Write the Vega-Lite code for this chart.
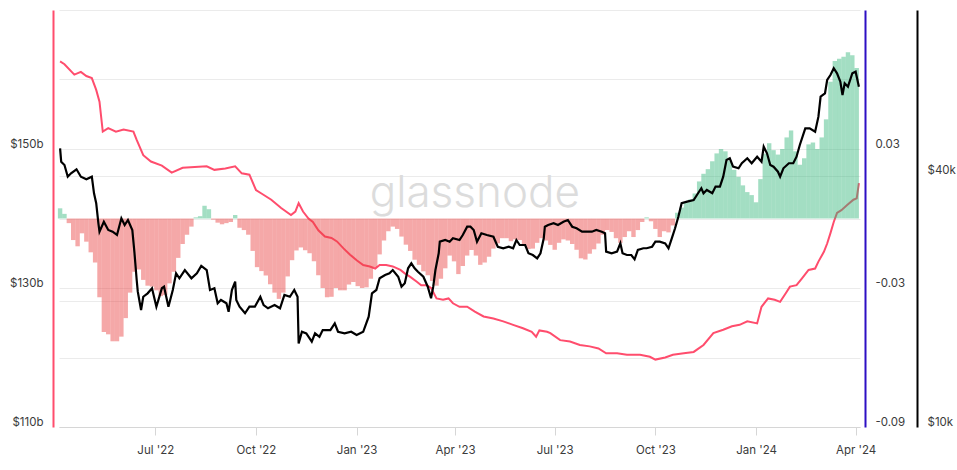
{
  "$schema": "https://vega.github.io/schema/vega-lite/v6.json",
  "width": 801,
  "height": 417,
  "padding": {"left": 9, "top": 10, "right": 0, "bottom": 0},
  "background": "white",
  "config": {
    "view": {"stroke": null},
    "font": "Inter",
    "axis": {
      "labelFont": "Inter",
      "labelFontSize": 11.5,
      "labelColor": "#3b3b3b",
      "title": null,
      "gridColor": "#ebebeb",
      "gridWidth": 1
    }
  },
  "datasets": {
    "watermark": [{"date": "2023-04-19", "value": 0.005}],
    "supply": [
      {"date": "2022-04-05", "value": 162.6}, {"date": "2022-04-09", "value": 162.2}, {"date": "2022-04-18", "value": 160.7},
      {"date": "2022-04-24", "value": 161.1}, {"date": "2022-04-29", "value": 160.5}, {"date": "2022-05-04", "value": 160.2},
      {"date": "2022-05-08", "value": 158.5}, {"date": "2022-05-11", "value": 156.8}, {"date": "2022-05-14", "value": 152.5},
      {"date": "2022-05-19", "value": 153.0}, {"date": "2022-05-26", "value": 152.5}, {"date": "2022-06-02", "value": 152.8},
      {"date": "2022-06-11", "value": 152.5}, {"date": "2022-06-14", "value": 151.3}, {"date": "2022-06-20", "value": 149.1},
      {"date": "2022-06-27", "value": 148.2}, {"date": "2022-07-07", "value": 147.6}, {"date": "2022-07-16", "value": 146.6},
      {"date": "2022-07-26", "value": 147.3}, {"date": "2022-08-06", "value": 147.4}, {"date": "2022-08-17", "value": 147.5},
      {"date": "2022-08-24", "value": 147.0}, {"date": "2022-09-03", "value": 147.2}, {"date": "2022-09-12", "value": 147.5},
      {"date": "2022-09-18", "value": 146.5}, {"date": "2022-09-25", "value": 146.3}, {"date": "2022-10-01", "value": 144.1},
      {"date": "2022-10-06", "value": 143.6}, {"date": "2022-10-15", "value": 142.7}, {"date": "2022-10-24", "value": 141.5},
      {"date": "2022-11-02", "value": 140.5}, {"date": "2022-11-06", "value": 141.0}, {"date": "2022-11-09", "value": 142.2},
      {"date": "2022-11-13", "value": 141.0}, {"date": "2022-11-18", "value": 140.0}, {"date": "2022-11-22", "value": 139.5},
      {"date": "2022-11-27", "value": 138.3}, {"date": "2022-12-03", "value": 137.4}, {"date": "2022-12-09", "value": 137.2},
      {"date": "2022-12-14", "value": 136.7}, {"date": "2022-12-20", "value": 135.7}, {"date": "2022-12-26", "value": 134.8},
      {"date": "2023-01-01", "value": 134.0}, {"date": "2023-01-07", "value": 133.3}, {"date": "2023-01-13", "value": 133.1},
      {"date": "2023-01-18", "value": 132.8}, {"date": "2023-01-22", "value": 133.3}, {"date": "2023-01-28", "value": 133.3},
      {"date": "2023-02-03", "value": 133.1}, {"date": "2023-02-10", "value": 132.6}, {"date": "2023-02-14", "value": 132.1},
      {"date": "2023-02-19", "value": 131.6}, {"date": "2023-02-25", "value": 130.9}, {"date": "2023-03-01", "value": 130.4},
      {"date": "2023-03-06", "value": 130.4}, {"date": "2023-03-10", "value": 130.0}, {"date": "2023-03-15", "value": 128.5},
      {"date": "2023-03-21", "value": 128.3}, {"date": "2023-03-26", "value": 128.5}, {"date": "2023-03-30", "value": 127.8},
      {"date": "2023-04-05", "value": 127.3}, {"date": "2023-04-12", "value": 127.3}, {"date": "2023-04-19", "value": 126.6},
      {"date": "2023-04-27", "value": 125.9}, {"date": "2023-05-06", "value": 125.6}, {"date": "2023-05-15", "value": 125.2},
      {"date": "2023-05-24", "value": 124.7}, {"date": "2023-06-02", "value": 124.2}, {"date": "2023-06-10", "value": 123.7},
      {"date": "2023-06-14", "value": 123.0}, {"date": "2023-06-17", "value": 123.9}, {"date": "2023-06-24", "value": 123.7},
      {"date": "2023-06-27", "value": 123.5}, {"date": "2023-07-06", "value": 122.5}, {"date": "2023-07-15", "value": 122.3},
      {"date": "2023-07-24", "value": 121.8}, {"date": "2023-08-02", "value": 121.6}, {"date": "2023-08-10", "value": 121.3},
      {"date": "2023-08-17", "value": 120.6}, {"date": "2023-08-27", "value": 120.6}, {"date": "2023-09-05", "value": 120.4},
      {"date": "2023-09-17", "value": 120.4}, {"date": "2023-09-26", "value": 120.1}, {"date": "2023-10-01", "value": 119.7},
      {"date": "2023-10-10", "value": 120.0}, {"date": "2023-10-17", "value": 120.4}, {"date": "2023-10-27", "value": 120.6},
      {"date": "2023-11-05", "value": 120.8}, {"date": "2023-11-14", "value": 121.8}, {"date": "2023-11-23", "value": 123.5},
      {"date": "2023-12-02", "value": 124.0}, {"date": "2023-12-10", "value": 124.5}, {"date": "2023-12-17", "value": 124.7},
      {"date": "2023-12-24", "value": 125.2}, {"date": "2024-01-02", "value": 124.9}, {"date": "2024-01-06", "value": 127.3},
      {"date": "2024-01-12", "value": 128.5}, {"date": "2024-01-18", "value": 128.3}, {"date": "2024-01-23", "value": 128.0},
      {"date": "2024-01-28", "value": 129.2}, {"date": "2024-02-01", "value": 130.2}, {"date": "2024-02-07", "value": 130.4},
      {"date": "2024-02-12", "value": 131.4}, {"date": "2024-02-18", "value": 132.6}, {"date": "2024-02-24", "value": 132.8},
      {"date": "2024-02-27", "value": 133.8}, {"date": "2024-03-03", "value": 135.2}, {"date": "2024-03-06", "value": 136.4},
      {"date": "2024-03-09", "value": 137.9}, {"date": "2024-03-12", "value": 139.5}, {"date": "2024-03-15", "value": 140.8},
      {"date": "2024-03-19", "value": 141.2}, {"date": "2024-03-24", "value": 141.9}, {"date": "2024-03-30", "value": 142.7},
      {"date": "2024-04-02", "value": 142.9}, {"date": "2024-04-04", "value": 145.1}
    ],
    "oscillator": [
      {"date": "2022-04-05", "value": 0.0044}, {"date": "2022-04-09", "value": 0.002}, {"date": "2022-04-13", "value": -0.002},
      {"date": "2022-04-17", "value": -0.0093}, {"date": "2022-04-21", "value": -0.012}, {"date": "2022-04-25", "value": -0.0064},
      {"date": "2022-04-29", "value": -0.01}, {"date": "2022-05-03", "value": -0.0146}, {"date": "2022-05-07", "value": -0.019},
      {"date": "2022-05-11", "value": -0.034}, {"date": "2022-05-15", "value": -0.049}, {"date": "2022-05-19", "value": -0.05},
      {"date": "2022-05-23", "value": -0.053}, {"date": "2022-05-27", "value": -0.053}, {"date": "2022-05-31", "value": -0.051},
      {"date": "2022-06-04", "value": -0.043}, {"date": "2022-06-08", "value": -0.032}, {"date": "2022-06-12", "value": -0.023},
      {"date": "2022-06-16", "value": -0.022}, {"date": "2022-06-20", "value": -0.0265}, {"date": "2022-06-24", "value": -0.029},
      {"date": "2022-06-28", "value": -0.0294}, {"date": "2022-07-02", "value": -0.031}, {"date": "2022-07-06", "value": -0.0335},
      {"date": "2022-07-10", "value": -0.033}, {"date": "2022-07-14", "value": -0.028}, {"date": "2022-07-18", "value": -0.023},
      {"date": "2022-07-22", "value": -0.017}, {"date": "2022-07-26", "value": -0.011}, {"date": "2022-07-30", "value": -0.007},
      {"date": "2022-08-03", "value": -0.0035}, {"date": "2022-08-07", "value": 0.0005}, {"date": "2022-08-11", "value": 0.001},
      {"date": "2022-08-15", "value": 0.0055}, {"date": "2022-08-19", "value": 0.004}, {"date": "2022-08-23", "value": -0.0005},
      {"date": "2022-08-27", "value": -0.0018}, {"date": "2022-08-31", "value": -0.0025}, {"date": "2022-09-04", "value": -0.002},
      {"date": "2022-09-08", "value": -0.0015}, {"date": "2022-09-12", "value": 0.0015}, {"date": "2022-09-16", "value": -0.004},
      {"date": "2022-09-20", "value": -0.005}, {"date": "2022-09-24", "value": -0.007}, {"date": "2022-09-28", "value": -0.014},
      {"date": "2022-10-02", "value": -0.021}, {"date": "2022-10-06", "value": -0.0227}, {"date": "2022-10-10", "value": -0.0246},
      {"date": "2022-10-14", "value": -0.0284}, {"date": "2022-10-18", "value": -0.032}, {"date": "2022-10-22", "value": -0.0347},
      {"date": "2022-10-26", "value": -0.032}, {"date": "2022-10-30", "value": -0.025}, {"date": "2022-11-03", "value": -0.018},
      {"date": "2022-11-07", "value": -0.0138}, {"date": "2022-11-11", "value": -0.0125}, {"date": "2022-11-15", "value": -0.0137},
      {"date": "2022-11-19", "value": -0.015}, {"date": "2022-11-23", "value": -0.0185}, {"date": "2022-11-27", "value": -0.0245},
      {"date": "2022-12-01", "value": -0.03}, {"date": "2022-12-05", "value": -0.034}, {"date": "2022-12-09", "value": -0.0338},
      {"date": "2022-12-13", "value": -0.03}, {"date": "2022-12-17", "value": -0.031}, {"date": "2022-12-21", "value": -0.031},
      {"date": "2022-12-25", "value": -0.0285}, {"date": "2022-12-29", "value": -0.0274}, {"date": "2023-01-02", "value": -0.0292},
      {"date": "2023-01-06", "value": -0.03}, {"date": "2023-01-10", "value": -0.0297}, {"date": "2023-01-14", "value": -0.026},
      {"date": "2023-01-18", "value": -0.021}, {"date": "2023-01-22", "value": -0.0155}, {"date": "2023-01-26", "value": -0.0095},
      {"date": "2023-01-30", "value": -0.0055}, {"date": "2023-02-03", "value": -0.0035}, {"date": "2023-02-07", "value": -0.0045},
      {"date": "2023-02-11", "value": -0.0078}, {"date": "2023-02-15", "value": -0.0113}, {"date": "2023-02-19", "value": -0.014},
      {"date": "2023-02-23", "value": -0.0178}, {"date": "2023-02-27", "value": -0.02}, {"date": "2023-03-03", "value": -0.0228},
      {"date": "2023-03-07", "value": -0.0245}, {"date": "2023-03-11", "value": -0.027}, {"date": "2023-03-15", "value": -0.029},
      {"date": "2023-03-19", "value": -0.026}, {"date": "2023-03-23", "value": -0.0215}, {"date": "2023-03-27", "value": -0.016},
      {"date": "2023-03-31", "value": -0.0185}, {"date": "2023-04-04", "value": -0.024}, {"date": "2023-04-08", "value": -0.0205},
      {"date": "2023-04-12", "value": -0.016}, {"date": "2023-04-16", "value": -0.0136}, {"date": "2023-04-20", "value": -0.016},
      {"date": "2023-04-24", "value": -0.02}, {"date": "2023-04-28", "value": -0.019}, {"date": "2023-05-02", "value": -0.0165},
      {"date": "2023-05-06", "value": -0.013}, {"date": "2023-05-10", "value": -0.0107}, {"date": "2023-05-14", "value": -0.0085},
      {"date": "2023-05-18", "value": -0.0085}, {"date": "2023-05-22", "value": -0.0098}, {"date": "2023-05-26", "value": -0.009},
      {"date": "2023-05-30", "value": -0.0093}, {"date": "2023-06-03", "value": -0.0115}, {"date": "2023-06-07", "value": -0.0132},
      {"date": "2023-06-11", "value": -0.013}, {"date": "2023-06-15", "value": -0.0105}, {"date": "2023-06-19", "value": -0.0085},
      {"date": "2023-06-23", "value": -0.0095}, {"date": "2023-06-27", "value": -0.0114}, {"date": "2023-07-01", "value": -0.0135},
      {"date": "2023-07-05", "value": -0.0105}, {"date": "2023-07-09", "value": -0.009}, {"date": "2023-07-13", "value": -0.0095},
      {"date": "2023-07-17", "value": -0.011}, {"date": "2023-07-21", "value": -0.0135}, {"date": "2023-07-25", "value": -0.0172},
      {"date": "2023-07-29", "value": -0.0177}, {"date": "2023-08-02", "value": -0.0152}, {"date": "2023-08-06", "value": -0.0133},
      {"date": "2023-08-10", "value": -0.0108}, {"date": "2023-08-14", "value": -0.007}, {"date": "2023-08-18", "value": -0.005},
      {"date": "2023-08-22", "value": -0.0058}, {"date": "2023-08-26", "value": -0.0085}, {"date": "2023-08-30", "value": -0.0105},
      {"date": "2023-09-03", "value": -0.008}, {"date": "2023-09-07", "value": -0.0055}, {"date": "2023-09-11", "value": -0.008},
      {"date": "2023-09-15", "value": -0.005}, {"date": "2023-09-19", "value": -0.0015}, {"date": "2023-09-23", "value": 0.0005},
      {"date": "2023-09-27", "value": -0.0012}, {"date": "2023-10-01", "value": -0.0045}, {"date": "2023-10-05", "value": -0.008},
      {"date": "2023-10-09", "value": -0.0055}, {"date": "2023-10-13", "value": -0.006}, {"date": "2023-10-17", "value": -0.003},
      {"date": "2023-10-21", "value": 0.0025}, {"date": "2023-10-25", "value": 0.0047}, {"date": "2023-10-29", "value": 0.007},
      {"date": "2023-11-02", "value": 0.0082}, {"date": "2023-11-06", "value": 0.0108}, {"date": "2023-11-10", "value": 0.016},
      {"date": "2023-11-14", "value": 0.0193}, {"date": "2023-11-18", "value": 0.0213}, {"date": "2023-11-22", "value": 0.0247},
      {"date": "2023-11-26", "value": 0.0281}, {"date": "2023-11-30", "value": 0.03}, {"date": "2023-12-04", "value": 0.029},
      {"date": "2023-12-08", "value": 0.025}, {"date": "2023-12-12", "value": 0.021}, {"date": "2023-12-16", "value": 0.018},
      {"date": "2023-12-20", "value": 0.0143}, {"date": "2023-12-24", "value": 0.0114}, {"date": "2023-12-28", "value": 0.0101},
      {"date": "2024-01-01", "value": 0.007}, {"date": "2024-01-05", "value": 0.017}, {"date": "2024-01-09", "value": 0.028},
      {"date": "2024-01-13", "value": 0.0325}, {"date": "2024-01-17", "value": 0.0295}, {"date": "2024-01-21", "value": 0.0276},
      {"date": "2024-01-25", "value": 0.03}, {"date": "2024-01-29", "value": 0.035}, {"date": "2024-02-02", "value": 0.038},
      {"date": "2024-02-06", "value": 0.029}, {"date": "2024-02-10", "value": 0.0232}, {"date": "2024-02-14", "value": 0.026},
      {"date": "2024-02-18", "value": 0.032}, {"date": "2024-02-22", "value": 0.0328}, {"date": "2024-02-26", "value": 0.03},
      {"date": "2024-03-01", "value": 0.035}, {"date": "2024-03-05", "value": 0.0428}, {"date": "2024-03-09", "value": 0.059},
      {"date": "2024-03-13", "value": 0.068}, {"date": "2024-03-17", "value": 0.069}, {"date": "2024-03-21", "value": 0.0698},
      {"date": "2024-03-25", "value": 0.0718}, {"date": "2024-03-29", "value": 0.0705}, {"date": "2024-04-02", "value": 0.065}
    ],
    "price": [
      {"date": "2022-04-05", "value": 46590}, {"date": "2022-04-06", "value": 43280}, {"date": "2022-04-09", "value": 42500},
      {"date": "2022-04-12", "value": 39830}, {"date": "2022-04-15", "value": 40590}, {"date": "2022-04-20", "value": 41500},
      {"date": "2022-04-24", "value": 39830}, {"date": "2022-04-29", "value": 39260}, {"date": "2022-05-04", "value": 39830},
      {"date": "2022-05-06", "value": 36350}, {"date": "2022-05-08", "value": 34400}, {"date": "2022-05-10", "value": 30800},
      {"date": "2022-05-11", "value": 29400}, {"date": "2022-05-15", "value": 31070}, {"date": "2022-05-19", "value": 29680},
      {"date": "2022-05-23", "value": 29400}, {"date": "2022-05-27", "value": 28870}, {"date": "2022-05-31", "value": 31660},
      {"date": "2022-06-03", "value": 30510}, {"date": "2022-06-06", "value": 31360}, {"date": "2022-06-10", "value": 29680},
      {"date": "2022-06-12", "value": 26100}, {"date": "2022-06-14", "value": 22520}, {"date": "2022-06-15", "value": 21110},
      {"date": "2022-06-18", "value": 19080}, {"date": "2022-06-20", "value": 20530}, {"date": "2022-06-24", "value": 20920},
      {"date": "2022-06-28", "value": 21510}, {"date": "2022-07-02", "value": 19430}, {"date": "2022-07-07", "value": 21510},
      {"date": "2022-07-09", "value": 21700}, {"date": "2022-07-13", "value": 19430}, {"date": "2022-07-17", "value": 21310},
      {"date": "2022-07-20", "value": 23370}, {"date": "2022-07-23", "value": 22730}, {"date": "2022-07-28", "value": 23790},
      {"date": "2022-08-03", "value": 22730}, {"date": "2022-08-08", "value": 23370}, {"date": "2022-08-12", "value": 24330},
      {"date": "2022-08-17", "value": 23790}, {"date": "2022-08-20", "value": 21310}, {"date": "2022-08-24", "value": 21510},
      {"date": "2022-08-27", "value": 19800}, {"date": "2022-08-30", "value": 20170}, {"date": "2022-09-04", "value": 19800},
      {"date": "2022-09-06", "value": 18900}, {"date": "2022-09-09", "value": 21310}, {"date": "2022-09-12", "value": 22310},
      {"date": "2022-09-13", "value": 20170}, {"date": "2022-09-16", "value": 19430}, {"date": "2022-09-21", "value": 18740},
      {"date": "2022-09-25", "value": 19430}, {"date": "2022-09-30", "value": 19430}, {"date": "2022-10-05", "value": 20530},
      {"date": "2022-10-08", "value": 19610}, {"date": "2022-10-12", "value": 19260}, {"date": "2022-10-18", "value": 19610},
      {"date": "2022-10-23", "value": 19260}, {"date": "2022-10-27", "value": 20730}, {"date": "2022-11-01", "value": 20530},
      {"date": "2022-11-05", "value": 21310}, {"date": "2022-11-08", "value": 20530}, {"date": "2022-11-09", "value": 15870},
      {"date": "2022-11-12", "value": 16920}, {"date": "2022-11-16", "value": 16770}, {"date": "2022-11-21", "value": 16020},
      {"date": "2022-11-24", "value": 16770}, {"date": "2022-11-28", "value": 16460}, {"date": "2022-12-01", "value": 17080},
      {"date": "2022-12-08", "value": 17080}, {"date": "2022-12-12", "value": 17730}, {"date": "2022-12-15", "value": 16920},
      {"date": "2022-12-21", "value": 16770}, {"date": "2022-12-27", "value": 16920}, {"date": "2023-01-01", "value": 16620},
      {"date": "2023-01-07", "value": 16920}, {"date": "2023-01-12", "value": 18390}, {"date": "2023-01-15", "value": 20920},
      {"date": "2023-01-19", "value": 21310}, {"date": "2023-01-22", "value": 22730}, {"date": "2023-01-27", "value": 23140},
      {"date": "2023-01-31", "value": 23370}, {"date": "2023-02-03", "value": 23790}, {"date": "2023-02-08", "value": 22930},
      {"date": "2023-02-11", "value": 21700}, {"date": "2023-02-14", "value": 22110}, {"date": "2023-02-17", "value": 24020},
      {"date": "2023-02-20", "value": 24690}, {"date": "2023-02-23", "value": 24020}, {"date": "2023-02-26", "value": 23570},
      {"date": "2023-03-03", "value": 22930}, {"date": "2023-03-07", "value": 21700}, {"date": "2023-03-10", "value": 20360},
      {"date": "2023-03-12", "value": 21700}, {"date": "2023-03-14", "value": 23790}, {"date": "2023-03-17", "value": 26100},
      {"date": "2023-03-18", "value": 27820}, {"date": "2023-03-23", "value": 28080}, {"date": "2023-03-27", "value": 27820},
      {"date": "2023-03-30", "value": 28350}, {"date": "2023-04-05", "value": 28080}, {"date": "2023-04-08", "value": 28870},
      {"date": "2023-04-12", "value": 30220}, {"date": "2023-04-15", "value": 30220}, {"date": "2023-04-18", "value": 29680},
      {"date": "2023-04-21", "value": 27820}, {"date": "2023-04-25", "value": 29140}, {"date": "2023-04-30", "value": 28870},
      {"date": "2023-05-06", "value": 28600}, {"date": "2023-05-10", "value": 27060}, {"date": "2023-05-15", "value": 26830},
      {"date": "2023-05-20", "value": 27060}, {"date": "2023-05-24", "value": 26830}, {"date": "2023-05-27", "value": 28080},
      {"date": "2023-05-30", "value": 27320}, {"date": "2023-06-04", "value": 27320}, {"date": "2023-06-07", "value": 26100},
      {"date": "2023-06-11", "value": 25850}, {"date": "2023-06-15", "value": 25380}, {"date": "2023-06-18", "value": 26100},
      {"date": "2023-06-21", "value": 28350}, {"date": "2023-06-22", "value": 30220}, {"date": "2023-06-25", "value": 30510},
      {"date": "2023-06-30", "value": 30800}, {"date": "2023-07-04", "value": 30510}, {"date": "2023-07-09", "value": 31070},
      {"date": "2023-07-13", "value": 31360}, {"date": "2023-07-17", "value": 30220}, {"date": "2023-07-21", "value": 29960},
      {"date": "2023-07-26", "value": 29400}, {"date": "2023-07-30", "value": 29400}, {"date": "2023-08-04", "value": 29400},
      {"date": "2023-08-08", "value": 29680}, {"date": "2023-08-13", "value": 29400}, {"date": "2023-08-16", "value": 29140},
      {"date": "2023-08-17", "value": 26330}, {"date": "2023-08-22", "value": 26100}, {"date": "2023-08-27", "value": 26330},
      {"date": "2023-08-30", "value": 27570}, {"date": "2023-09-01", "value": 26100}, {"date": "2023-09-05", "value": 25850},
      {"date": "2023-09-09", "value": 25850}, {"date": "2023-09-12", "value": 25240}, {"date": "2023-09-15", "value": 26580},
      {"date": "2023-09-20", "value": 26830}, {"date": "2023-09-23", "value": 26830}, {"date": "2023-09-28", "value": 27060},
      {"date": "2023-10-01", "value": 27820}, {"date": "2023-10-05", "value": 27820}, {"date": "2023-10-10", "value": 27570},
      {"date": "2023-10-13", "value": 26830}, {"date": "2023-10-16", "value": 28350}, {"date": "2023-10-19", "value": 29960},
      {"date": "2023-10-22", "value": 31940}, {"date": "2023-10-25", "value": 34400}, {"date": "2023-10-30", "value": 34700},
      {"date": "2023-11-05", "value": 35020}, {"date": "2023-11-09", "value": 36350}, {"date": "2023-11-12", "value": 37370},
      {"date": "2023-11-14", "value": 36350}, {"date": "2023-11-17", "value": 37020}, {"date": "2023-11-22", "value": 36350},
      {"date": "2023-11-25", "value": 37710}, {"date": "2023-11-29", "value": 37710}, {"date": "2023-12-02", "value": 39830},
      {"date": "2023-12-05", "value": 43690}, {"date": "2023-12-08", "value": 44100}, {"date": "2023-12-11", "value": 42100},
      {"date": "2023-12-16", "value": 41730}, {"date": "2023-12-19", "value": 42900}, {"date": "2023-12-24", "value": 44100},
      {"date": "2023-12-28", "value": 42900}, {"date": "2024-01-02", "value": 44490}, {"date": "2024-01-06", "value": 43280},
      {"date": "2024-01-08", "value": 47010}, {"date": "2024-01-11", "value": 45330}, {"date": "2024-01-14", "value": 42500},
      {"date": "2024-01-17", "value": 42100}, {"date": "2024-01-21", "value": 40950}, {"date": "2024-01-23", "value": 39830},
      {"date": "2024-01-26", "value": 41730}, {"date": "2024-01-31", "value": 42900}, {"date": "2024-02-04", "value": 42900},
      {"date": "2024-02-07", "value": 44490}, {"date": "2024-02-10", "value": 47450}, {"date": "2024-02-15", "value": 52040},
      {"date": "2024-02-19", "value": 52040}, {"date": "2024-02-24", "value": 51070}, {"date": "2024-02-27", "value": 55480},
      {"date": "2024-02-29", "value": 61960}, {"date": "2024-03-04", "value": 63120}, {"date": "2024-03-06", "value": 67950},
      {"date": "2024-03-09", "value": 69850}, {"date": "2024-03-12", "value": 72490}, {"date": "2024-03-15", "value": 70510},
      {"date": "2024-03-18", "value": 67320}, {"date": "2024-03-20", "value": 62540}, {"date": "2024-03-22", "value": 66720},
      {"date": "2024-03-25", "value": 65480}, {"date": "2024-03-29", "value": 70510}, {"date": "2024-04-01", "value": 71130},
      {"date": "2024-04-03", "value": 67320}, {"date": "2024-04-04", "value": 65480}
    ]
  },
  "encoding": {
    "x": {
      "field": "date",
      "type": "temporal",
      "scale": {"domain": [{"year": 2022, "month": 4, "date": 4}, {"year": 2024, "month": 4, "date": 5}], "padding": 0},
      "axis": {
        "values": [
          {"year": 2022, "month": 7, "date": 1}, {"year": 2022, "month": 10, "date": 1},
          {"year": 2023, "month": 1, "date": 1}, {"year": 2023, "month": 4, "date": 1},
          {"year": 2023, "month": 7, "date": 1}, {"year": 2023, "month": 10, "date": 1},
          {"year": 2024, "month": 1, "date": 1}, {"year": 2024, "month": 4, "date": 1}
        ],
        "format": "%b '%y",
        "grid": false,
        "ticks": true,
        "tickSize": 8,
        "tickColor": "#d6d6d6",
        "domainColor": "#d6d6d6",
        "labelPadding": 9,
        "labelFlush": false
      }
    }
  },
  "layer": [
    {
      "data": {"name": "watermark"},
      "mark": {"type": "text", "text": "glassnode", "font": "Inter", "fontSize": 44, "fontWeight": 300, "color": "#dcdcdc", "align": "center", "baseline": "alphabetic"},
      "encoding": {
        "y": {"field": "value", "type": "quantitative", "axis": null, "scale": {"domain": [-0.09, 0.09]}}
      }
    },
    {
      "data": {"name": "supply"},
      "mark": {"type": "line", "color": "#ff4d6d", "strokeWidth": 2},
      "encoding": {
        "y": {"field": "value", "type": "quantitative", "scale": {"domain": [110, 170], "zero": false},
              "axis": {"orient": "left", "offset": 6, "values": [110, 130, 150], "labelExpr": "'$' + datum.value + 'b'", "ticks": false,
                       "grid": false, "domainColor": "#ff4d6d", "domainWidth": 2, "labelPadding": 10, "labelBaseline": "bottom"}}
      }
    },
    {
      "data": {"name": "oscillator"},
      "mark": {"type": "bar", "width": 4.4, "opacity": 0.45},
      "encoding": {
        "y": {"field": "value", "type": "quantitative", "scale": {"domain": [-0.09, 0.09]},
              "axis": {"orient": "right", "offset": 5, "values": [-0.09, -0.06, -0.03, 0, 0.03, 0.06, 0.09], "ticks": false,
                       "labelExpr": "datum.value == -0.09 ? '-0.09' : datum.value == -0.03 ? '-0.03' : datum.value == 0.03 ? '0.03' : ''",
                       "grid": true, "domainColor": "#2d0fc4", "domainWidth": 2, "labelPadding": 10, "labelBaseline": "bottom"}},
        "color": {"condition": {"test": "datum.value >= 0", "value": "#34b679"}, "value": "#e93e3e"}
      }
    },
    {
      "data": {"name": "price"},
      "mark": {"type": "line", "color": "#000000", "strokeWidth": 2.2},
      "encoding": {
        "y": {"field": "value", "type": "quantitative", "scale": {"type": "log", "domain": [10000, 100000]},
              "axis": {"orient": "right", "offset": 57, "values": [10000, 20000, 40000], "ticks": false,
                       "labelExpr": "datum.value == 10000 ? '$10k' : datum.value == 40000 ? '$40k' : ''",
                       "grid": true, "domainColor": "#000000", "domainWidth": 2, "labelPadding": 10, "labelBaseline": "bottom"}}
      }
    }
  ],
  "resolve": {"scale": {"y": "independent"}, "axis": {"y": "independent"}}
}
